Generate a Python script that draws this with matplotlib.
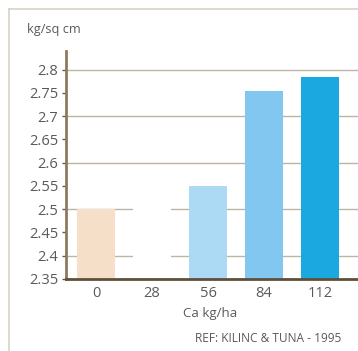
import matplotlib
matplotlib.use("Agg")
import matplotlib.pyplot as plt
from matplotlib.lines import Line2D

# data
doses = ["0", "28", "56", "84", "112"]
strength = [2.50, 2.53, 2.55, 2.755, 2.785]
bar_colors = ["#f6dfc9", "#ffffff", "#acd9f4", "#82c7ef", "#1ba7df"]
y_ticks = [2.35, 2.4, 2.45, 2.5, 2.55, 2.6, 2.65, 2.7, 2.75, 2.8]
y_labels = ["2.35", "2.4", "2.45", "2.5", "2.55", "2.6", "2.65", "2.7", "2.75", "2.8"]
grid_levels = [2.4, 2.5, 2.6, 2.7, 2.8]

plt.rcParams['font.family'] = ['Open Sans', 'DejaVu Sans']
text_grey = "#5a5a5a"

fig = plt.figure(figsize=(3.58, 3.51), dpi=100)
fig.patch.set_facecolor("white")

# light frame around the panel
frame = "#d9d2c6"
fig.add_artist(Line2D([9 / 358, 9 / 358], [0, 1 - 9 / 351], transform=fig.transFigure, color=frame, lw=1.2))
fig.add_artist(Line2D([9 / 358, 1], [1 - 9 / 351, 1 - 9 / 351], transform=fig.transFigure, color=frame, lw=1.2))

ax = fig.add_axes([66 / 358, 1 - 279 / 351, 1 - 66 / 358, (279 - 51) / 351])

for level in grid_levels:
    ax.axhline(level, color="#bdb4a4", lw=1.0, zorder=1)

x = list(range(len(doses)))
ax.bar(x, [v - 2.35 for v in strength], bottom=2.35, width=0.69,
       color=bar_colors, zorder=2)

ax.set_xlim(-0.536, 4.68)
ax.set_ylim(2.35, 2.84)
ax.set_xticks(x)
ax.set_xticklabels(doses)
ax.set_yticks(y_ticks)
ax.set_yticklabels(y_labels)

ax.tick_params(axis="x", length=0, pad=5, labelsize=10.5, colors=text_grey)
ax.tick_params(axis="y", length=3, width=1, pad=2.5, labelsize=10.5, colors=text_grey)
for t in ax.get_yticklines():
    t.set_color("#3a3226")

for side in ["top", "right"]:
    ax.spines[side].set_visible(False)
ax.spines["left"].set_color("#8c7b5e")
ax.spines["left"].set_linewidth(2)
ax.spines["bottom"].set_color("#5e5038")
ax.spines["bottom"].set_linewidth(2)
ax.set_facecolor("none")

fig.text(27 / 358, 1 - 29 / 351, "kg/sq cm", fontsize=9.2, color=text_grey, va="center", ha="left")
fig.text(210 / 358, 1 - 313 / 351, "Ca kg/ha", fontsize=9.5, color=text_grey, va="center", ha="center")
fig.text(195 / 358, 1 - 338 / 351, "REF: KILINC & TUNA - 1995", fontsize=8.6, color=text_grey, va="center", ha="left")

fig.savefig("out.png", dpi=100)
